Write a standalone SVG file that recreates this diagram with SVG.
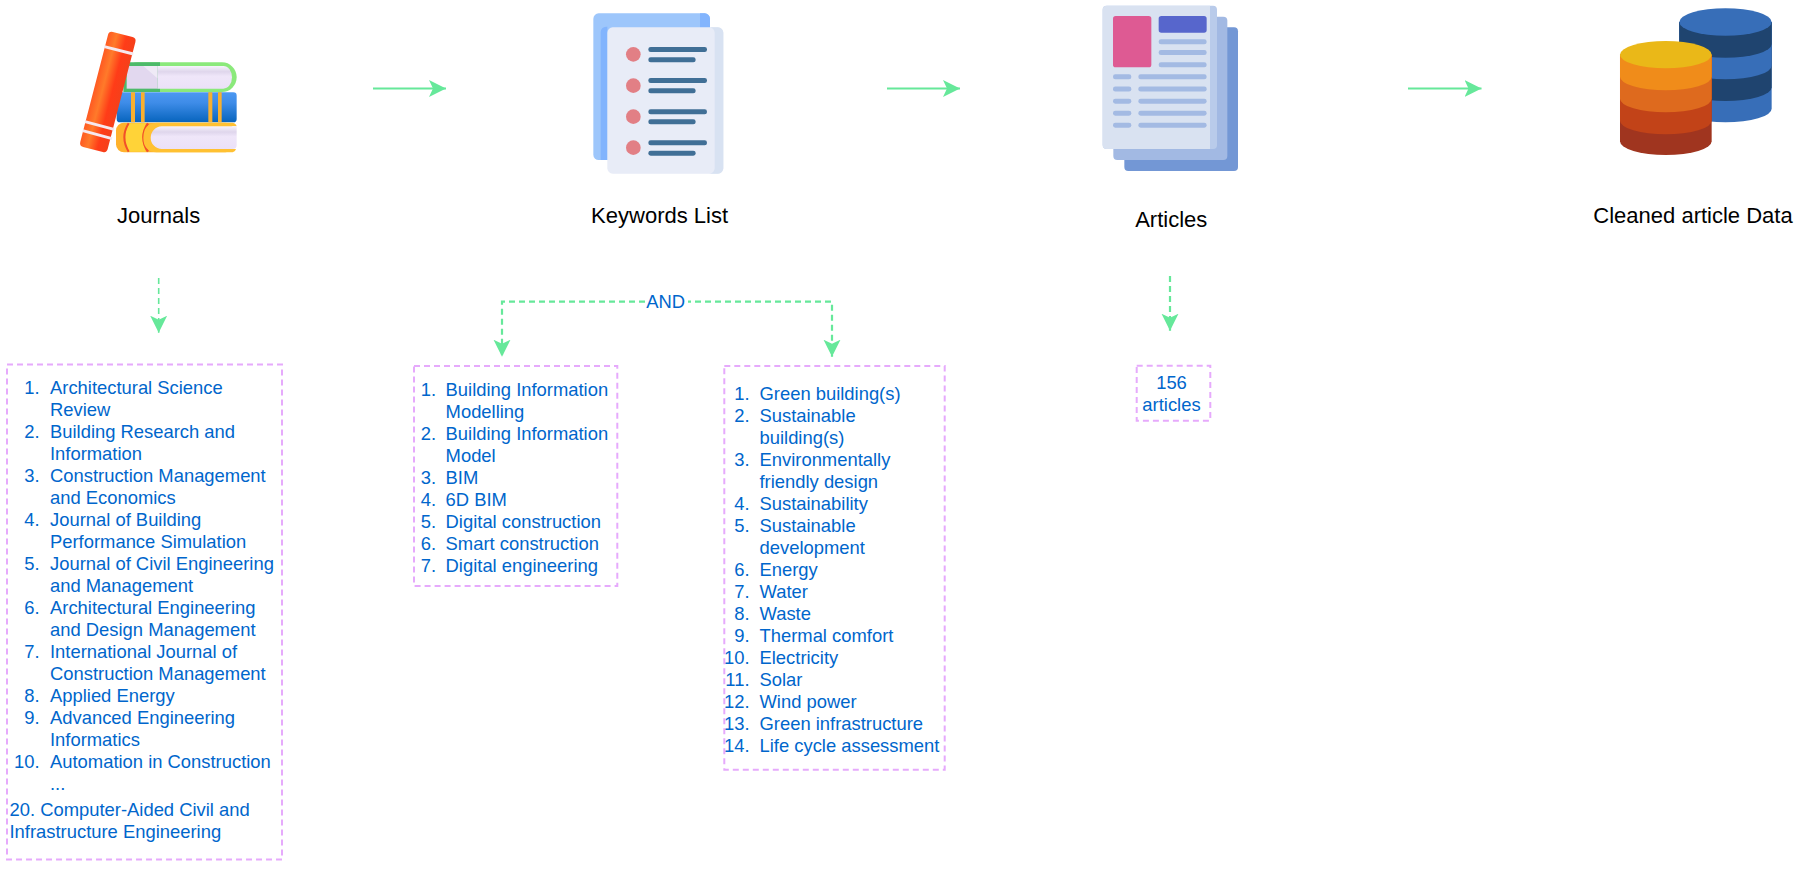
<svg xmlns="http://www.w3.org/2000/svg" width="1806" height="880" viewBox="0 0 1806 880">
<style>
text{font-family:"Liberation Sans",Arial,sans-serif}
.lab{font-size:22px;fill:#000;text-anchor:middle}
.li{font-size:18.4px;fill:#0066cc}
.n{font-size:18.4px;fill:#0066cc;text-anchor:end}
.c{font-size:18.4px;fill:#0066cc;text-anchor:middle}
.box{fill:#fff;stroke:#e6aafc;stroke-width:2;stroke-dasharray:6 4}
.sol{fill:none;stroke:#66e89a;stroke-width:2;marker-end:url(#ah)}
.das{fill:none;stroke:#66e89a;stroke-width:2.2;stroke-dasharray:6 4;marker-end:url(#ah)}
.s1{fill:#406f96}.d1{fill:#e27f85}.r1{fill:#a3bae3}
</style>
<defs>
<marker id="ah" markerUnits="userSpaceOnUse" markerWidth="18" markerHeight="18" refX="17" refY="8.5" orient="auto"><path d="M17 8.5L0 0L4 8.5L0 17Z" fill="#66e89a"/></marker>
<linearGradient id="gRed" x1="0" x2="1" y1="0" y2="0"><stop offset="0" stop-color="#ff5a22"/><stop offset=".3" stop-color="#ff7a2a"/><stop offset=".65" stop-color="#ff3c18"/><stop offset="1" stop-color="#f5401a"/></linearGradient>
<linearGradient id="gBlue" x1="0" x2="0" y1="0" y2="1"><stop offset="0" stop-color="#4c98f2"/><stop offset=".35" stop-color="#3e8ce8"/><stop offset="1" stop-color="#0764bd"/></linearGradient>
<linearGradient id="gPage" x1="0" x2="0" y1="0" y2="1"><stop offset="0" stop-color="#f6f3fb"/><stop offset=".25" stop-color="#dfd6ec"/><stop offset=".45" stop-color="#efe6f9"/><stop offset="1" stop-color="#ebe1f8"/></linearGradient>
</defs>

<g id="connectors">
<path class="sol" d="M373 88.5H446"/>
<path class="sol" d="M887 88.5H960"/>
<path class="sol" d="M1408 88.5H1481.5"/>
<path class="das" style="stroke-width:1.6" d="M158.7 278V332.7"/>
<path class="das" d="M665 301.7H502V356.7"/>
<path class="das" d="M665 301.7H832V356.7"/>
<path class="das" d="M1170 276V330.7"/>
<rect x="645" y="290" width="43" height="23" fill="#fff"/>
<text class="c" x="665.700" y="307.800">AND</text>
</g>

<g id="journals-icon" transform="translate(60 10) scale(.33333)">
<rect x="190" y="157" width="340" height="89" rx="44" fill="#8be97b"/>
<path d="M190 157H300V246H190Z" fill="#4dba6a"/>
<path d="M300 168H490a26 34 0 0 1 26 34a26 34 0 0 1 -26 34H292V168Z" fill="url(#gPage)"/>
<path d="M200 168H292V236H200Z" fill="#e2d8ef"/>
<path d="M215 168H250L292 205V168Z" fill="#efeaf6"/>
<rect x="170" y="247" width="360" height="90" rx="10" fill="url(#gBlue)"/>
<path d="M213 247h12v90h-12zM243 247h11v90h-11zM445 247h12v90h-12zM474 247h11v90h-11z" fill="#f8b030"/>
<rect x="168" y="338" width="352" height="89" rx="24" fill="#ffb22c"/>
<path d="M208 340H258Q236 382 258 425H208Q184 382 208 340Z" fill="#ffd338"/>
<path d="M206 340Q180 382 206 425" fill="none" stroke="#f2502a" stroke-width="6"/>
<path d="M264 340Q236 382 264 425" fill="none" stroke="#f2502a" stroke-width="7"/>
<path d="M300 338H518Q528 340 530 349H305A34 34 0 0 0 272 383A34 34 0 0 0 305 417H528Q526 426 518 427H290Q250 425 250 383Q250 340 290 338Z" fill="#ffc132"/>
<path d="M305 349H530V405Q530 417 518 417H305A34 34 0 0 1 272 383A34 34 0 0 1 305 349Z" fill="url(#gPage)"/>
<rect x="101" y="68" width="85" height="356" rx="12" transform="rotate(14.5 143.5 246)" fill="url(#gRed)"/>
<path d="M133 110L220 132M75 335L162 358M68 362L156 386" stroke="#f6e8ee" stroke-width="9" fill="none"/>
</g>
<g id="journals"><text class="lab" x="158.600" y="223">Journals</text></g>

<g id="keywords-icon" transform="translate(500 0) scale(.33333)">
<rect x="280" y="40" width="350" height="440" rx="16" fill="#9dc6fb"/>
<path d="M600 40h14a16 16 0 0 1 16 16V120H600Z" fill="#82b4fd"/>
<path d="M322 80H318a16 16 0 0 0 -16 16V480H322Z" fill="#82b4fd"/>
<rect x="322" y="82" width="348" height="439" rx="16" fill="#e8ecf7"/>
<path d="M640 82h14a16 16 0 0 1 16 16V505a16 16 0 0 1 -16 16H628a16 16 0 0 0 16 -16V98a16 16 0 0 0 -16 -16Z" fill="#d8e2f2"/>
<circle class="d1" cx="400" cy="163" r="22"/><circle class="d1" cx="400" cy="257" r="22"/><circle class="d1" cx="400" cy="350" r="22"/><circle class="d1" cx="400" cy="443" r="22"/>
<rect class="s1" x="445" y="141" width="176" height="15" rx="7"/><rect class="s1" x="445" y="172" width="142" height="15" rx="7"/>
<rect class="s1" x="445" y="234" width="176" height="15" rx="7"/><rect class="s1" x="445" y="265" width="142" height="15" rx="7"/>
<rect class="s1" x="445" y="328" width="176" height="15" rx="7"/><rect class="s1" x="445" y="358" width="142" height="15" rx="7"/>
<rect class="s1" x="445" y="421" width="176" height="15" rx="7"/><rect class="s1" x="445" y="452" width="142" height="15" rx="7"/>
</g>
<g id="keywords"><text class="lab" x="659.600" y="222.700">Keywords List</text></g>

<g id="articles-icon" transform="translate(940 0) scale(.33333)">
<rect x="553" y="82" width="341" height="431" rx="12" fill="#7397d5"/>
<rect x="520" y="50" width="342" height="430" rx="12" fill="#a2b9e3"/>
<rect x="488" y="17" width="343" height="430" rx="12" fill="#b9cbea"/>
<path d="M500 17H810V447H500a12 12 0 0 1 -12 -12V29a12 12 0 0 1 12 -12Z" fill="#d9e2f1"/>
<rect x="519" y="48" width="115" height="154" rx="8" fill="#de5a93"/>
<rect x="656" y="48" width="144" height="50" rx="8" fill="#5766cc"/>
<rect class="r1" x="656" y="118" width="144" height="15" rx="7"/><rect class="r1" x="656" y="150" width="144" height="15" rx="7"/><rect class="r1" x="656" y="187" width="144" height="15" rx="7"/>
<rect class="r1" x="519" y="223" width="55" height="15" rx="7"/><rect class="r1" x="595" y="223" width="205" height="15" rx="7"/>
<rect class="r1" x="519" y="259.500" width="55" height="15" rx="7"/><rect class="r1" x="595" y="259.500" width="205" height="15" rx="7"/>
<rect class="r1" x="519" y="296" width="55" height="15" rx="7"/><rect class="r1" x="595" y="296" width="205" height="15" rx="7"/>
<rect class="r1" x="519" y="332" width="55" height="15" rx="7"/><rect class="r1" x="595" y="332" width="205" height="15" rx="7"/>
<rect class="r1" x="519" y="368" width="55" height="15" rx="7"/><rect class="r1" x="595" y="368" width="205" height="15" rx="7"/>
</g>
<g id="articles"><text class="lab" x="1171.200" y="226.700">Articles</text></g>

<g id="database-icon" transform="translate(1590 0) scale(.33333)">
<path d="M268 66V326A138.500 41 0 0 0 545 326V66Z" fill="#376eb8"/>
<path d="M268 66V262A138.500 41 0 0 0 545 262V66Z" fill="#1f446f"/>
<path d="M268 66V197A138.500 41 0 0 0 545 197V66Z" fill="#376eb8"/>
<path d="M268 66V132A138.500 41 0 0 0 545 132V66Z" fill="#1f446f"/>
<ellipse cx="406.500" cy="66" rx="138.500" ry="41" fill="#376eb8"/>
<path d="M90 164V424A137.500 41 0 0 0 365 424V164Z" fill="#a0351f"/>
<path d="M90 164V362A137.500 41 0 0 0 365 362V164Z" fill="#c24318"/>
<path d="M90 164V296A137.500 41 0 0 0 365 296V164Z" fill="#de6a1e"/>
<path d="M90 164V230A137.500 41 0 0 0 365 230V164Z" fill="#f08c1a"/>
<ellipse cx="227.500" cy="164" rx="137.500" ry="41" fill="#eab818"/>
</g>
<g id="cleaned"><text class="lab" x="1693" y="222.700">Cleaned article Data</text></g>

<g id="journal-list">
<rect class="box" x="7" y="364.500" width="275" height="495"/>
<text class="n" x="39.500" y="394">1.</text><text class="li" x="50" y="394">Architectural Science</text>
<text class="li" x="50" y="416">Review</text>
<text class="n" x="39.500" y="438">2.</text><text class="li" x="50" y="438">Building Research and</text>
<text class="li" x="50" y="460">Information</text>
<text class="n" x="39.500" y="482">3.</text><text class="li" x="50" y="482">Construction Management</text>
<text class="li" x="50" y="504">and Economics</text>
<text class="n" x="39.500" y="526">4.</text><text class="li" x="50" y="526">Journal of Building</text>
<text class="li" x="50" y="548">Performance Simulation</text>
<text class="n" x="39.500" y="570">5.</text><text class="li" x="50" y="570">Journal of Civil Engineering</text>
<text class="li" x="50" y="592">and Management</text>
<text class="n" x="39.500" y="614">6.</text><text class="li" x="50" y="614">Architectural Engineering</text>
<text class="li" x="50" y="636">and Design Management</text>
<text class="n" x="39.500" y="658">7.</text><text class="li" x="50" y="658">International Journal of</text>
<text class="li" x="50" y="680">Construction Management</text>
<text class="n" x="39.500" y="702">8.</text><text class="li" x="50" y="702">Applied Energy</text>
<text class="n" x="39.500" y="724">9.</text><text class="li" x="50" y="724">Advanced Engineering</text>
<text class="li" x="50" y="746">Informatics</text>
<text class="n" x="39.500" y="768">10.</text><text class="li" x="50" y="768">Automation in Construction</text>
<text class="li" x="50" y="790">...</text>
<text class="li" x="9.500" y="816">20. Computer-Aided Civil and</text>
<text class="li" x="9.500" y="838">Infrastructure Engineering</text>
</g>

<g id="bim-list">
<rect class="box" x="414" y="366" width="203.300" height="220"/>
<text class="n" x="436" y="396">1.</text><text class="li" x="445.600" y="396">Building Information</text>
<text class="li" x="445.600" y="418">Modelling</text>
<text class="n" x="436" y="440">2.</text><text class="li" x="445.600" y="440">Building Information</text>
<text class="li" x="445.600" y="462">Model</text>
<text class="n" x="436" y="484">3.</text><text class="li" x="445.600" y="484">BIM</text>
<text class="n" x="436" y="506">4.</text><text class="li" x="445.600" y="506">6D BIM</text>
<text class="n" x="436" y="528">5.</text><text class="li" x="445.600" y="528">Digital construction</text>
<text class="n" x="436" y="550">6.</text><text class="li" x="445.600" y="550">Smart construction</text>
<text class="n" x="436" y="572">7.</text><text class="li" x="445.600" y="572">Digital engineering</text>
</g>

<g id="green-list">
<rect class="box" x="724.300" y="366" width="220.400" height="403.700"/>
<text class="n" x="749.500" y="399.500">1.</text><text class="li" x="759.500" y="399.500">Green building(s)</text>
<text class="n" x="749.500" y="421.500">2.</text><text class="li" x="759.500" y="421.500">Sustainable</text>
<text class="li" x="759.500" y="443.500">building(s)</text>
<text class="n" x="749.500" y="465.500">3.</text><text class="li" x="759.500" y="465.500">Environmentally</text>
<text class="li" x="759.500" y="487.500">friendly design</text>
<text class="n" x="749.500" y="509.500">4.</text><text class="li" x="759.500" y="509.500">Sustainability</text>
<text class="n" x="749.500" y="531.500">5.</text><text class="li" x="759.500" y="531.500">Sustainable</text>
<text class="li" x="759.500" y="553.500">development</text>
<text class="n" x="749.500" y="575.500">6.</text><text class="li" x="759.500" y="575.500">Energy</text>
<text class="n" x="749.500" y="597.500">7.</text><text class="li" x="759.500" y="597.500">Water</text>
<text class="n" x="749.500" y="619.500">8.</text><text class="li" x="759.500" y="619.500">Waste</text>
<text class="n" x="749.500" y="641.500">9.</text><text class="li" x="759.500" y="641.500">Thermal comfort</text>
<text class="n" x="749.500" y="663.500">10.</text><text class="li" x="759.500" y="663.500">Electricity</text>
<text class="n" x="749.500" y="685.500">11.</text><text class="li" x="759.500" y="685.500">Solar</text>
<text class="n" x="749.500" y="707.500">12.</text><text class="li" x="759.500" y="707.500">Wind power</text>
<text class="n" x="749.500" y="729.500">13.</text><text class="li" x="759.500" y="729.500">Green infrastructure</text>
<text class="n" x="749.500" y="751.500">14.</text><text class="li" x="759.500" y="751.500">Life cycle assessment</text>
</g>

<g id="count">
<rect class="box" x="1136.700" y="365.700" width="73.600" height="55"/>
<text class="c" x="1171.500" y="388.500">156</text>
<text class="c" x="1171.500" y="410.500">articles</text>
</g>
</svg>
